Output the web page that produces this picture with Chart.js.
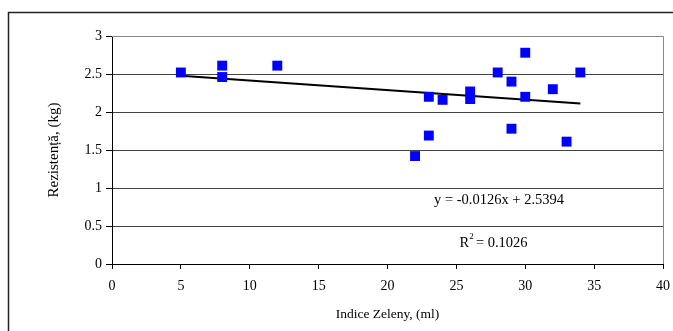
<!DOCTYPE html>
<html>
<head>
<meta charset="utf-8">
<script src="https://cdn.jsdelivr.net/npm/chart.js@4/dist/chart.umd.min.js"></script>
<style>
  html, body { margin: 0; padding: 0; background: #fff; }
  #wrap { position: relative; width: 673px; height: 331px; }
</style>
</head>
<body>
<div id="wrap"><canvas id="c" width="673" height="331"></canvas></div>
<script>
// Indice Zeleny (ml) vs. rezistenta (kg)
const zeleny = [5, 8, 8, 12, 22, 23, 23, 24, 26, 26, 28, 29, 29, 30, 30, 32, 33, 34];
const rezistenta = [2.52, 2.61, 2.46, 2.61, 1.42, 2.2, 1.69, 2.16, 2.27, 2.17, 2.52, 2.4, 1.78, 2.78, 2.2, 2.3, 1.61, 2.52];

// linear trend, as printed on the chart
const trendSlope = -0.0126;
const trendIntercept = 2.5394;
const trendR2 = 0.1026;
const trendX = [5, 34];

const xTicks = [0, 5, 10, 15, 20, 25, 30, 35, 40];
const yTicks = [0, 0.5, 1, 1.5, 2, 2.5, 3];

const serif = '"Liberation Serif", "Times New Roman", serif';

const points = zeleny.map((x, i) => ({ x, y: rezistenta[i] }));
const trend = trendX.map(x => ({ x, y: trendSlope * x + trendIntercept }));

// outer frame, gray plot border and the equation text
const decor = {
  id: 'decor',
  beforeDatasetsDraw(chart) {
    const { ctx, chartArea: a } = chart;
    ctx.save();
    ctx.strokeStyle = '#888';
    ctx.lineWidth = 1;
    ctx.beginPath();
    ctx.moveTo(a.left, Math.round(a.top) + 0.5);
    ctx.lineTo(Math.round(a.right) + 0.5, Math.round(a.top) + 0.5);
    ctx.lineTo(Math.round(a.right) + 0.5, a.bottom);
    ctx.stroke();
    ctx.strokeStyle = '#222';
    ctx.lineWidth = 1.5;
    ctx.beginPath();
    ctx.moveTo(8.5, chart.height);
    ctx.lineTo(8.5, 12.5);
    ctx.lineTo(chart.width, 12.5);
    ctx.stroke();
    ctx.restore();
  },
  afterDatasetsDraw(chart) {
    const { ctx, scales: { x, y } } = chart;
    ctx.save();
    ctx.fillStyle = '#000';
    ctx.font = '14.5px ' + serif;
    ctx.textAlign = 'center';
    ctx.textBaseline = 'middle';
    const eq = 'y = ' + trendSlope + 'x + ' + trendIntercept;
    ctx.fillText(eq, x.getPixelForValue(28.1), y.getPixelForValue(0.84));
    const r2 = ' = ' + trendR2;
    const cx = x.getPixelForValue(27.7), cy = y.getPixelForValue(0.27);
    const wR = ctx.measureText('R').width, wT = ctx.measureText(r2).width;
    const start = cx - (wR + 3 + wT) / 2;
    ctx.textAlign = 'left';
    ctx.fillText('R', start, cy);
    ctx.font = '9px ' + serif;
    ctx.fillText('2', start + wR, cy - 7);
    ctx.font = '14.5px ' + serif;
    ctx.fillText(r2, start + wR + 3, cy);
    ctx.restore();
  }
};

new Chart(document.getElementById('c'), {
  type: 'scatter',
  data: {
    datasets: [
      {
        data: points,
        pointStyle: 'rect',
        pointRadius: 7,
        pointHoverRadius: 7,
        backgroundColor: '#0000ff',
        borderWidth: 0
      },
      {
        type: 'line',
        data: trend,
        borderColor: '#000',
        borderWidth: 2,
        pointRadius: 0,
        fill: false
      }
    ]
  },
  options: {
    responsive: false,
    animation: false,
    events: [],
    layout: { padding: { top: 36, right: 10, left: 0, bottom: 0 } },
    plugins: { legend: { display: false }, tooltip: { enabled: false } },
    scales: {
      x: {
        type: 'linear',
        min: 0, max: 40,
        afterBuildTicks: s => { s.ticks = xTicks.map(v => ({ value: v })); },
        afterFit: s => { s.height = 67; s.paddingLeft = 0; s.paddingRight = 0; },
        grid: { drawOnChartArea: false, drawTicks: true, tickLength: 5, color: '#000' },
        border: { color: '#000', width: 1 },
        ticks: { color: '#000', padding: 9, font: { family: serif, size: 14 }, maxRotation: 0 },
        title: { display: true, text: 'Indice Zeleny, (ml)', color: '#000', font: { family: serif, size: 13.5 }, padding: { top: 0, bottom: 8 } }
      },
      y: {
        type: 'linear',
        min: 0, max: 3,
        afterBuildTicks: s => { s.ticks = yTicks.map(v => ({ value: v })); },
        afterFit: s => { s.width = 112; s.paddingTop = 0; s.paddingBottom = 0; },
        grid: { color: '#444', lineWidth: 1, tickLength: 6, tickColor: '#000' },
        border: { color: '#000', width: 1 },
        ticks: { color: '#000', padding: 4, font: { family: serif, size: 14 }, callback: v => String(v) },
        title: { display: true, text: 'Rezistență, (kg)', color: '#000', font: { family: serif, size: 15 }, padding: { top: 45, bottom: 0 } }
      }
    }
  },
  plugins: [decor]
});
</script>
</body>
</html>
